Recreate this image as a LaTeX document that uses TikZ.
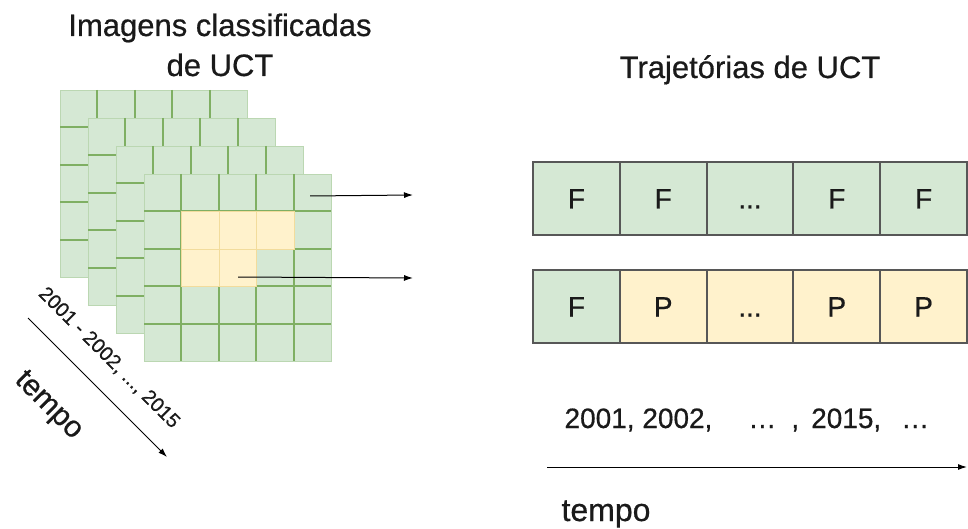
\documentclass[tikz,border=0pt]{standalone}
\usepackage{fontspec}
\setmainfont{Liberation Sans}[FakeBold=0.6]
\usetikzlibrary{arrows.meta}
\usetikzlibrary{positioning}
\definecolor{greenfill}{HTML}{D5E8D4}
\definecolor{greenline}{HTML}{7FAF63}
\definecolor{yellowfill}{HTML}{FFF2CC}
\definecolor{yellowline}{HTML}{F2DC9C}
\definecolor{boxline}{HTML}{575757}
\definecolor{ink}{HTML}{1A1A1A}
\newcommand{\txtsize}[1]{\fontsize{#1}{#1}\selectfont}
\newcommand{\cellw}{37.4}

\begin{document}
\begin{tikzpicture}[x=1pt, y=-1pt,
                    text=ink,
                    layer/.style={
                        fill=greenfill, draw=greenfill!70!greenline,
                        line width=1pt, minimum size=187pt,
                        inner sep=0pt, anchor=north west
                    },
                    gridline/.style={greenline, line width=2pt},
                    pixel/.style={
                        fill=yellowfill, draw=yellowline, line width=1pt,
                        minimum size=37.4pt, inner sep=0pt, anchor=north west
                    },
                    state/.style={
                        draw=boxline, line width=2pt, outer sep=0pt,
                        minimum width=86.8pt, minimum height=73pt, inner sep=0pt,
                        text height=20pt, text depth=0pt, font=\txtsize{28}
                    },
                    forest/.style={state, fill=greenfill},
                    pasture/.style={state, fill=yellowfill},
                    link/.style={-{Latex[length=9pt,width=6pt]}, line width=1pt}]

    \useasboundingbox (0,0) rectangle (968,529);

    % stack of classified images
    \foreach \k in {0,...,3} {
        \node[layer] (l\k) at ({60+28*\k},{90+28*\k}) {};
        \foreach \i in {1,...,4} {
            \draw[gridline] ({60+28*\k+\cellw*\i},{90+28*\k}) -- ++(0,187);
            \draw[gridline] ({60+28*\k},{90+28*\k+\cellw*\i}) -- ++(187,0);
        }
    }
    \foreach \r/\c in {1/1,1/2,1/3,2/1,2/2}
        \node[pixel] (y\r\c) at ({144+\cellw*\c},{174+\cellw*\r}) {};

    \node[anchor=base, font=\txtsize{31}] (ttl1) at (220,36) {Imagens classificadas};
    \node[anchor=base, font=\txtsize{31}] (ttl1b) at (220,76) {de UCT};
    \node[anchor=base, font=\txtsize{31}] (ttl2) at (750,78) {Trajetórias de UCT};

    % trajectories
    \node[forest] (f1) at (576.4,198.5) {F};
    \node[forest, right=0pt of f1] (f2) {F};
    \node[forest, right=0pt of f2] (f3) {...};
    \node[forest, right=0pt of f3] (f4) {F};
    \node[forest, right=0pt of f4] (f5) {F};

    \node[forest] (p1) at (576.4,306.5) {F};
    \node[pasture, right=0pt of p1] (p2) {P};
    \node[pasture, right=0pt of p2] (p3) {...};
    \node[pasture, right=0pt of p3] (p4) {P};
    \node[pasture, right=0pt of p4] (p5) {P};

    \coordinate (src1) at (310,196);
    \coordinate (dst1) at (413,195);
    \coordinate (src2) at (238,277);
    \coordinate (dst2) at (413,278);
    \draw[link] (src1) -- (dst1);
    \draw[link] (src2) -- (dst2);

    % time axes
    \coordinate (d0) at (28,318);
    \coordinate (d1) at (167,457);
    \draw[link] (d0) -- (d1);
    \node[rotate=-45, font=\txtsize{20}] (yrs) at (109,358) {2001 - 2002, ..., 2015};
    \node[rotate=-45, font=\txtsize{30}] (tmp1) at (48,406) {tempo};

    \node[anchor=base west, font=\txtsize{28}] (years) at (561,428)
        {2001, 2002,\hspace{36pt}…\hspace{15pt},\hspace{12pt}2015,\hspace{20pt}…};
    \coordinate (t0) at (547,467);
    \coordinate (t1) at (967,467);
    \draw[link] (t0) -- (t1);
    \node[anchor=base west, font=\txtsize{32}] (tmp2) at (558,521) {tempo};

\end{tikzpicture}
\end{document}
